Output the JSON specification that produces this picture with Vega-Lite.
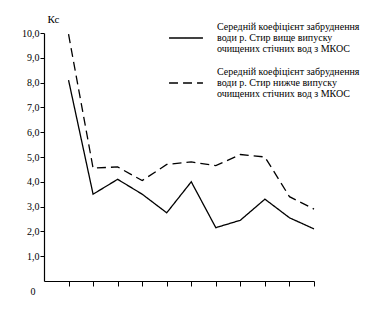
{
  "$schema": "https://vega.github.io/schema/vega-lite/v6.json",
  "autosize": "none",
  "width": 270,
  "height": 248,
  "padding": {"left": 44, "top": 33, "right": 60, "bottom": 46},
  "background": "white",
  "config": {
    "view": {"stroke": null},
    "font": "Liberation Serif",
    "axis": {"grid": false, "domainColor": "black", "tickColor": "black", "labelColor": "black", "titleColor": "black", "labelFont": "Liberation Serif", "titleFont": "Liberation Serif", "domainWidth": 1.2, "tickWidth": 1, "labelOverlap": false}
  },
  "datasets": {
    "series": [
      {"idx": 0, "value": 8.1, "series": "Середній коефіцієнт забруднення|води р. Стир вище випуску|очищених стічних вод з МКОС"},
      {"idx": 1, "value": 3.5, "series": "Середній коефіцієнт забруднення|води р. Стир вище випуску|очищених стічних вод з МКОС"},
      {"idx": 2, "value": 4.1, "series": "Середній коефіцієнт забруднення|води р. Стир вище випуску|очищених стічних вод з МКОС"},
      {"idx": 3, "value": 3.5, "series": "Середній коефіцієнт забруднення|води р. Стир вище випуску|очищених стічних вод з МКОС"},
      {"idx": 4, "value": 2.75, "series": "Середній коефіцієнт забруднення|води р. Стир вище випуску|очищених стічних вод з МКОС"},
      {"idx": 5, "value": 4.0, "series": "Середній коефіцієнт забруднення|води р. Стир вище випуску|очищених стічних вод з МКОС"},
      {"idx": 6, "value": 2.15, "series": "Середній коефіцієнт забруднення|води р. Стир вище випуску|очищених стічних вод з МКОС"},
      {"idx": 7, "value": 2.45, "series": "Середній коефіцієнт забруднення|води р. Стир вище випуску|очищених стічних вод з МКОС"},
      {"idx": 8, "value": 3.3, "series": "Середній коефіцієнт забруднення|води р. Стир вище випуску|очищених стічних вод з МКОС"},
      {"idx": 9, "value": 2.55, "series": "Середній коефіцієнт забруднення|води р. Стир вище випуску|очищених стічних вод з МКОС"},
      {"idx": 10, "value": 2.1, "series": "Середній коефіцієнт забруднення|води р. Стир вище випуску|очищених стічних вод з МКОС"},
      {"idx": 0, "value": 9.95, "series": "Середній коефіцієнт забруднення|води р. Стир нижче випуску|очищених стічних вод з МКОС"},
      {"idx": 1, "value": 4.55, "series": "Середній коефіцієнт забруднення|води р. Стир нижче випуску|очищених стічних вод з МКОС"},
      {"idx": 2, "value": 4.6, "series": "Середній коефіцієнт забруднення|води р. Стир нижче випуску|очищених стічних вод з МКОС"},
      {"idx": 3, "value": 4.05, "series": "Середній коефіцієнт забруднення|води р. Стир нижче випуску|очищених стічних вод з МКОС"},
      {"idx": 4, "value": 4.7, "series": "Середній коефіцієнт забруднення|води р. Стир нижче випуску|очищених стічних вод з МКОС"},
      {"idx": 5, "value": 4.8, "series": "Середній коефіцієнт забруднення|води р. Стир нижче випуску|очищених стічних вод з МКОС"},
      {"idx": 6, "value": 4.65, "series": "Середній коефіцієнт забруднення|води р. Стир нижче випуску|очищених стічних вод з МКОС"},
      {"idx": 7, "value": 5.1, "series": "Середній коефіцієнт забруднення|води р. Стир нижче випуску|очищених стічних вод з МКОС"},
      {"idx": 8, "value": 5.0, "series": "Середній коефіцієнт забруднення|води р. Стир нижче випуску|очищених стічних вод з МКОС"},
      {"idx": 9, "value": 3.4, "series": "Середній коефіцієнт забруднення|води р. Стир нижче випуску|очищених стічних вод з МКОС"},
      {"idx": 10, "value": 2.9, "series": "Середній коефіцієнт забруднення|води р. Стир нижче випуску|очищених стічних вод з МКОС"}
    ],
    "zero": [{"idx": -1, "value": 0, "label": "0"}]
  },
  "layer": [
    {
      "data": {"name": "series"},
      "mark": {"type": "line", "color": "black", "strokeWidth": 1.3},
      "encoding": {
        "x": {
          "field": "idx", "type": "quantitative",
          "scale": {"domain": [-1, 10], "nice": false, "zero": false},
          "axis": {"values": [0,1,2,3,4,5,6,7,8,9,10], "tickCount": 30, "labels": false, "title": null, "tickSize": 5}
        },
        "y": {
          "field": "value", "type": "quantitative",
          "scale": {"domain": [0, 10], "nice": false},
          "axis": {
            "values": [1,2,3,4,5,6,7,8,9,10], "tickCount": 30,
            "labelExpr": "replace(format(datum.value, '.1f'), '.', ',')",
            "labelFontSize": 10, "labelPadding": 1, "tickSize": 4,
            "title": "Кс", "titleAngle": 0, "titleAlign": "left", "titleBaseline": "middle",
            "titleX": 3, "titleY": -14, "titleFontSize": 11, "titleFontWeight": "normal"
          }
        },
        "strokeDash": {
          "field": "series", "type": "nominal",
          "scale": {"range": [[1, 0], [9, 5]]},
          "legend": {
            "orient": "none", "legendX": 124, "legendY": -13, "title": null,
            "symbolType": "stroke", "symbolSize": 1150, "symbolStrokeWidth": 1.3, "symbolStrokeColor": "black",
            "labelExpr": "split(datum.label, '|')",
            "labelFont": "Liberation Serif", "labelFontSize": 10, "labelColor": "black",
            "labelLimit": 300, "labelOffset": 13, "rowPadding": 11, "labelBaseline": "middle",
            "encode": {"labels": {"update": {"dy": {"value": -11}, "lineHeight": {"value": 11}}}}
          }
        }
      }
    },
    {
      "data": {"name": "zero"},
      "mark": {"type": "text", "dx": -11, "dy": 11, "fontSize": 10, "font": "Liberation Serif", "color": "black"},
      "encoding": {
        "x": {"field": "idx", "type": "quantitative"},
        "y": {"field": "value", "type": "quantitative"},
        "text": {"field": "label"}
      }
    }
  ]
}
